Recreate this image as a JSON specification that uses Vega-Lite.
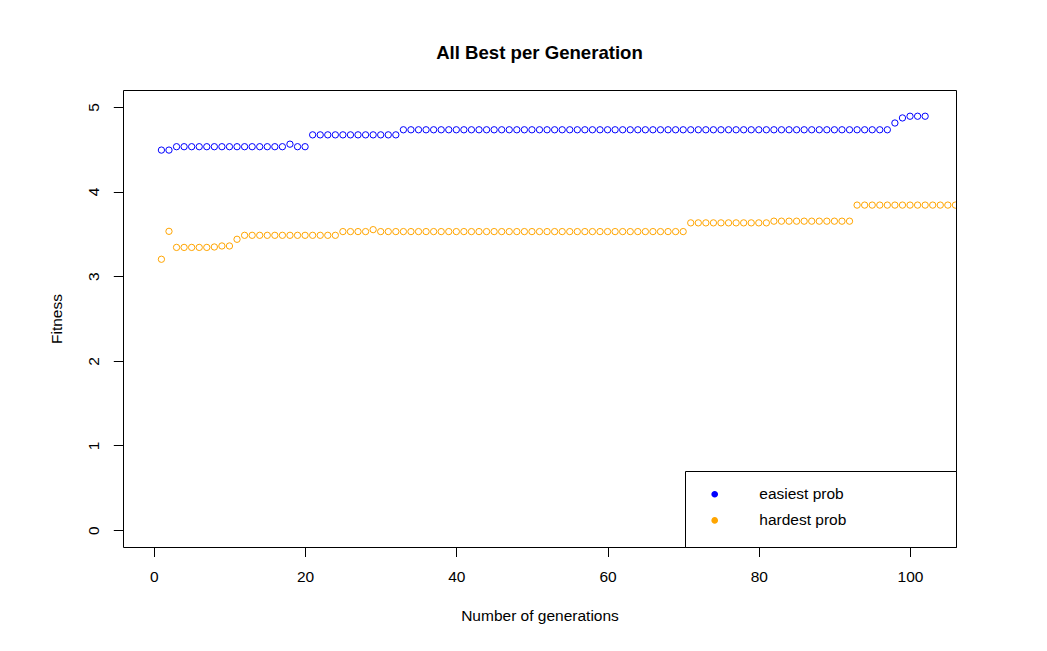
{
  "$schema": "https://vega.github.io/schema/vega-lite/v6.json",
  "autosize": "none",
  "width": 833,
  "height": 457,
  "padding": {"left": 123, "top": 90, "right": 91, "bottom": 104},
  "background": "white",
  "title": {"text": "All Best per Generation", "font": "Liberation Sans", "fontSize": 18.6, "fontWeight": "bold", "color": "black", "anchor": "middle", "offset": 27},
  "data": {"values": [
    {"gen":1,"easiest prob":4.49,"hardest prob":3.20},
    {"gen":2,"easiest prob":4.49,"hardest prob":3.53},
    {"gen":3,"easiest prob":4.53,"hardest prob":3.34},
    {"gen":4,"easiest prob":4.53,"hardest prob":3.34},
    {"gen":5,"easiest prob":4.53,"hardest prob":3.34},
    {"gen":6,"easiest prob":4.53,"hardest prob":3.34},
    {"gen":7,"easiest prob":4.53,"hardest prob":3.34},
    {"gen":8,"easiest prob":4.53,"hardest prob":3.345},
    {"gen":9,"easiest prob":4.53,"hardest prob":3.357},
    {"gen":10,"easiest prob":4.53,"hardest prob":3.357},
    {"gen":11,"easiest prob":4.53,"hardest prob":3.436},
    {"gen":12,"easiest prob":4.53,"hardest prob":3.483},
    {"gen":13,"easiest prob":4.53,"hardest prob":3.483},
    {"gen":14,"easiest prob":4.53,"hardest prob":3.483},
    {"gen":15,"easiest prob":4.53,"hardest prob":3.483},
    {"gen":16,"easiest prob":4.53,"hardest prob":3.483},
    {"gen":17,"easiest prob":4.53,"hardest prob":3.483},
    {"gen":18,"easiest prob":4.56,"hardest prob":3.483},
    {"gen":19,"easiest prob":4.53,"hardest prob":3.483},
    {"gen":20,"easiest prob":4.53,"hardest prob":3.483},
    {"gen":21,"easiest prob":4.67,"hardest prob":3.483},
    {"gen":22,"easiest prob":4.67,"hardest prob":3.483},
    {"gen":23,"easiest prob":4.67,"hardest prob":3.483},
    {"gen":24,"easiest prob":4.67,"hardest prob":3.483},
    {"gen":25,"easiest prob":4.67,"hardest prob":3.527},
    {"gen":26,"easiest prob":4.67,"hardest prob":3.527},
    {"gen":27,"easiest prob":4.67,"hardest prob":3.527},
    {"gen":28,"easiest prob":4.67,"hardest prob":3.527},
    {"gen":29,"easiest prob":4.67,"hardest prob":3.55},
    {"gen":30,"easiest prob":4.67,"hardest prob":3.527},
    {"gen":31,"easiest prob":4.67,"hardest prob":3.527},
    {"gen":32,"easiest prob":4.67,"hardest prob":3.527},
    {"gen":33,"easiest prob":4.73,"hardest prob":3.527},
    {"gen":34,"easiest prob":4.73,"hardest prob":3.527},
    {"gen":35,"easiest prob":4.73,"hardest prob":3.527},
    {"gen":36,"easiest prob":4.73,"hardest prob":3.527},
    {"gen":37,"easiest prob":4.73,"hardest prob":3.527},
    {"gen":38,"easiest prob":4.73,"hardest prob":3.527},
    {"gen":39,"easiest prob":4.73,"hardest prob":3.527},
    {"gen":40,"easiest prob":4.73,"hardest prob":3.527},
    {"gen":41,"easiest prob":4.73,"hardest prob":3.527},
    {"gen":42,"easiest prob":4.73,"hardest prob":3.527},
    {"gen":43,"easiest prob":4.73,"hardest prob":3.527},
    {"gen":44,"easiest prob":4.73,"hardest prob":3.527},
    {"gen":45,"easiest prob":4.73,"hardest prob":3.527},
    {"gen":46,"easiest prob":4.73,"hardest prob":3.527},
    {"gen":47,"easiest prob":4.73,"hardest prob":3.527},
    {"gen":48,"easiest prob":4.73,"hardest prob":3.527},
    {"gen":49,"easiest prob":4.73,"hardest prob":3.527},
    {"gen":50,"easiest prob":4.73,"hardest prob":3.527},
    {"gen":51,"easiest prob":4.73,"hardest prob":3.527},
    {"gen":52,"easiest prob":4.73,"hardest prob":3.527},
    {"gen":53,"easiest prob":4.73,"hardest prob":3.527},
    {"gen":54,"easiest prob":4.73,"hardest prob":3.527},
    {"gen":55,"easiest prob":4.73,"hardest prob":3.527},
    {"gen":56,"easiest prob":4.73,"hardest prob":3.527},
    {"gen":57,"easiest prob":4.73,"hardest prob":3.527},
    {"gen":58,"easiest prob":4.73,"hardest prob":3.527},
    {"gen":59,"easiest prob":4.73,"hardest prob":3.527},
    {"gen":60,"easiest prob":4.73,"hardest prob":3.527},
    {"gen":61,"easiest prob":4.73,"hardest prob":3.527},
    {"gen":62,"easiest prob":4.73,"hardest prob":3.527},
    {"gen":63,"easiest prob":4.73,"hardest prob":3.527},
    {"gen":64,"easiest prob":4.73,"hardest prob":3.527},
    {"gen":65,"easiest prob":4.73,"hardest prob":3.527},
    {"gen":66,"easiest prob":4.73,"hardest prob":3.527},
    {"gen":67,"easiest prob":4.73,"hardest prob":3.527},
    {"gen":68,"easiest prob":4.73,"hardest prob":3.527},
    {"gen":69,"easiest prob":4.73,"hardest prob":3.527},
    {"gen":70,"easiest prob":4.73,"hardest prob":3.527},
    {"gen":71,"easiest prob":4.73,"hardest prob":3.63},
    {"gen":72,"easiest prob":4.73,"hardest prob":3.63},
    {"gen":73,"easiest prob":4.73,"hardest prob":3.63},
    {"gen":74,"easiest prob":4.73,"hardest prob":3.63},
    {"gen":75,"easiest prob":4.73,"hardest prob":3.63},
    {"gen":76,"easiest prob":4.73,"hardest prob":3.63},
    {"gen":77,"easiest prob":4.73,"hardest prob":3.63},
    {"gen":78,"easiest prob":4.73,"hardest prob":3.63},
    {"gen":79,"easiest prob":4.73,"hardest prob":3.63},
    {"gen":80,"easiest prob":4.73,"hardest prob":3.63},
    {"gen":81,"easiest prob":4.73,"hardest prob":3.63},
    {"gen":82,"easiest prob":4.73,"hardest prob":3.65},
    {"gen":83,"easiest prob":4.73,"hardest prob":3.65},
    {"gen":84,"easiest prob":4.73,"hardest prob":3.65},
    {"gen":85,"easiest prob":4.73,"hardest prob":3.65},
    {"gen":86,"easiest prob":4.73,"hardest prob":3.65},
    {"gen":87,"easiest prob":4.73,"hardest prob":3.65},
    {"gen":88,"easiest prob":4.73,"hardest prob":3.65},
    {"gen":89,"easiest prob":4.73,"hardest prob":3.65},
    {"gen":90,"easiest prob":4.73,"hardest prob":3.65},
    {"gen":91,"easiest prob":4.73,"hardest prob":3.65},
    {"gen":92,"easiest prob":4.73,"hardest prob":3.65},
    {"gen":93,"easiest prob":4.73,"hardest prob":3.84},
    {"gen":94,"easiest prob":4.73,"hardest prob":3.84},
    {"gen":95,"easiest prob":4.73,"hardest prob":3.84},
    {"gen":96,"easiest prob":4.73,"hardest prob":3.84},
    {"gen":97,"easiest prob":4.73,"hardest prob":3.84},
    {"gen":98,"easiest prob":4.81,"hardest prob":3.84},
    {"gen":99,"easiest prob":4.87,"hardest prob":3.84},
    {"gen":100,"easiest prob":4.89,"hardest prob":3.84},
    {"gen":101,"easiest prob":4.89,"hardest prob":3.84},
    {"gen":102,"easiest prob":4.89,"hardest prob":3.84},
    {"gen":103,"easiest prob":null,"hardest prob":3.84},
    {"gen":104,"easiest prob":null,"hardest prob":3.84},
    {"gen":105,"easiest prob":null,"hardest prob":3.84},
    {"gen":106,"easiest prob":null,"hardest prob":3.84}
  ]},
  "transform": [
    {"fold": ["easiest prob", "hardest prob"], "as": ["problem", "fitness"]},
    {"filter": "datum.fitness != null"}
  ],
  "mark": {"type": "point", "filled": false, "size": 40, "strokeWidth": 1, "opacity": 1, "clip": true},
  "encoding": {
    "x": {
      "field": "gen", "type": "quantitative",
      "scale": {"domain": [-4.08, 106.08], "nice": false, "zero": false},
      "axis": {
        "title": "Number of generations", "values": [0, 20, 40, 60, 80, 100],
        "domain": false, "grid": false, "tickSize": 9.5, "tickColor": "black", "tickWidth": 1,
        "labelPadding": 13, "labelFont": "Liberation Sans", "labelFontSize": 15.5, "labelColor": "black",
        "labelFlush": false, "labelOverlap": false,
        "titlePadding": 23, "titleFont": "Liberation Sans", "titleFontSize": 15.5, "titleFontWeight": "normal", "titleColor": "black"
      }
    },
    "y": {
      "field": "fitness", "type": "quantitative",
      "scale": {"domain": [-0.2, 5.2], "nice": false, "zero": false},
      "axis": {
        "title": "Fitness", "values": [0, 1, 2, 3, 4, 5],
        "domain": false, "grid": false, "tickSize": 9.7, "tickColor": "black", "tickWidth": 1,
        "labelAngle": 270, "labelAlign": "center", "labelBaseline": "alphabetic",
        "labelPadding": 15, "labelFont": "Liberation Sans", "labelFontSize": 15.5, "labelColor": "black",
        "labelFlush": false, "labelOverlap": false,
        "titlePadding": 22, "titleFont": "Liberation Sans", "titleFontSize": 15.5, "titleFontWeight": "normal", "titleColor": "black"
      }
    },
    "color": {
      "field": "problem", "type": "nominal",
      "scale": {"domain": ["easiest prob", "hardest prob"], "range": ["#0000FF", "#FFA500"]},
      "legend": {
        "title": null, "orient": "bottom-right", "offset": 0, "padding": 15.5,
        "strokeColor": "black", "fillColor": "white",
        "symbolType": "M1,0L0.924,0.383L0.707,0.707L0.383,0.924L0,1L-0.383,0.924L-0.707,0.707L-0.924,0.383L-1,0L-0.924,-0.383L-0.707,-0.707L-0.383,-0.924L0,-1L0.383,-0.924L0.707,-0.707L0.924,-0.383ZM215.8,0",
        "symbolSize": 4, "symbolStrokeWidth": 4.6, "symbolOffset": 6.45,
        "labelOffset": 36.85, "labelFont": "Liberation Sans", "labelFontSize": 15.5, "labelColor": "black",
        "rowPadding": 5.2,
        "encode": {"symbols": {"stroke": {"value": {"expr": "scale('color', datum.value)"}}, "strokeJoin": {"value": "round"}, "opacity": {"value": 1}}}
      }
    }
  },
  "config": {"view": {"stroke": "black", "strokeWidth": 1}}
}
